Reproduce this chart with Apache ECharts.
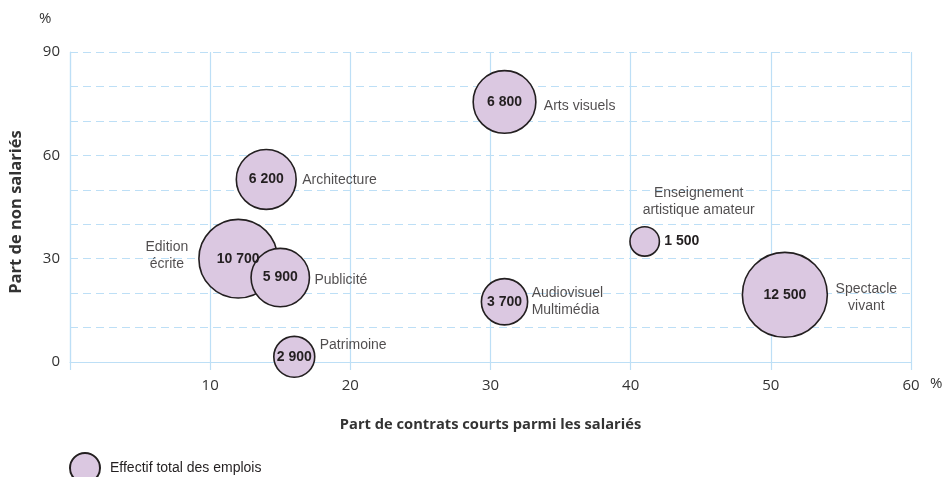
<!DOCTYPE html>
<html><head><meta charset="utf-8">
<script src="https://cdn.jsdelivr.net/npm/echarts@6/dist/echarts.min.js"></script>
<style>html,body{margin:0;padding:0;background:#fff}#c{width:948px;height:477px}</style>
</head><body><div id="c"></div>
<script>
// ---- data ----
const sectors = ['Arts visuels','Architecture','Edition\nécrite','Publicité','Patrimoine','Audiovisuel\nMultimédia','Enseignement\nartistique amateur','Spectacle\nvivant'];
const shortContracts = [31, 14, 12, 15, 16, 31, 41, 51];      // x, %
const nonSalaried   = [75.5, 53, 30, 24.5, 1.5, 17.5, 35, 19.5]; // y, %
const totalJobs     = [6800, 6200, 10700, 5900, 2900, 3700, 1500, 12500];
const xTicks = [0, 10, 20, 30, 40, 50, 60];
const yTicks = [0, 30, 60, 90];
const legendLabel = 'Effectif total des emplois';
const xTitle = 'Part de contrats courts parmi les salariés';
const yTitle = 'Part de non salariés';

// ---- styles ----
const GRID = '#bddff6';
const INK = '#231f20';
const FILL = '#dbc8e1';
const LAB = "'Liberation Sans','Arimo',Arial,sans-serif";
const AXISF = "'Open Sans','Noto Sans',sans-serif";
const sizeOf = v => 0.76 * Math.sqrt(v);
const fmt = v => String(v).replace(/\B(?=(\d{3})+(?!\d))/g, ' ');

const nameLabelCfg = [
  {position:'right', distance:8, offset:[0,4]},
  {position:'right', distance:6, offset:[0,1]},
  {position:'left', distance:32, align:'center', offset:[0,-3]},
  {position:'right', distance:5, offset:[0,3]},
  {position:'right', distance:5, offset:[0,-12]},
  {position:'right', distance:4},
  {position:'top', distance:8, align:'center', offset:[54,0]},
  {position:'right', distance:39, align:'center', offset:[0,3]}
];
const valueLabelCfg = sectors.map((s,i)=> totalJobs[i] < 2000 ? {position:'right', distance:4} : {position:'inside'});

const bubbleData = sectors.map((s,i)=>({
  name: s, value:[shortContracts[i], nonSalaried[i], totalJobs[i]],
  label: Object.assign({show:true, formatter: fmt(totalJobs[i])}, valueLabelCfg[i])
}));
const nameData = sectors.map((s,i)=>({
  name: s, value:[shortContracts[i], nonSalaried[i], totalJobs[i]],
  label: Object.assign({show:true, formatter: s}, nameLabelCfg[i])
}));

const chart = echarts.init(document.getElementById('c'), null, {renderer:'canvas'});
chart.setOption({
  animation:false,
  grid:{left:69, right:37, top:52, bottom:115},
  xAxis:{
    type:'value', min:xTicks[0], max:xTicks[xTicks.length-1], interval:10,
    name:xTitle, nameLocation:'middle', nameGap:55,
    nameTextStyle:{fontFamily:AXISF, fontWeight:'bold', fontSize:14.7, color:'#333'},
    axisLine:{show:true, onZero:false, lineStyle:{color:GRID, width:1.2}},
    axisTick:{show:true, length:8, lineStyle:{color:GRID, width:1.2}},
    axisLabel:{margin:16, fontFamily:AXISF, fontSize:15, color:'#333',
      formatter:v=> (v===0 ? '' : String(v))},
    splitLine:{show:true, lineStyle:{color:GRID, width:1.2}}
  },
  yAxis:{
    type:'value', min:0, max:90, interval:10,
    name:yTitle, nameLocation:'middle', nameGap:45, nameRotate:90,
    nameTextStyle:{fontFamily:AXISF, fontWeight:'bold', fontSize:16.5, color:'#333', padding:[0,10,0,0]},
    axisLine:{show:true, onZero:false, lineStyle:{color:GRID, width:1.2}},
    axisTick:{show:false},
    axisLabel:{margin:10, fontFamily:AXISF, fontSize:15, color:'#333',
      formatter:v=> (yTicks.indexOf(v) >= 0 ? String(v) : '')},
    splitLine:{show:true, lineStyle:{color:GRID, width:1.2, type:[8,5]}}
  },
  legend:{
    show:true, left:64, top:447, itemWidth:40, itemHeight:30, itemGap:10,
    data:[{name:legendLabel, icon:'circle'}],
    textStyle:{fontFamily:LAB, fontSize:14, color:INK}
  },
  graphic:[
    {type:'text', left:39, top:11, style:{text:'%', font:"15px 'Open Sans'", fill:'#333'}},
    {type:'text', left:930, top:376, style:{text:'%', font:"15px 'Open Sans'", fill:'#333'}}
  ],
  series:[
    {
      name:legendLabel, type:'scatter', z:3,
      symbolSize: d=> sizeOf(d[2]),
      itemStyle:{color:FILL, borderColor:INK, borderWidth:1.6, opacity:1},
      label:{fontFamily:LAB, fontWeight:'bold', fontSize:14, color:INK},
      data: bubbleData
    },
    {
      name:'labels', type:'scatter', z:4, silent:true,
      symbolSize: d=> sizeOf(d[2]),
      itemStyle:{color:'rgba(0,0,0,0)', borderWidth:0},
      label:{fontFamily:LAB, fontSize:14, color:INK, lineHeight:17},
      emphasis:{disabled:true},
      data: nameData
    }
  ]
});
</script></body></html>
